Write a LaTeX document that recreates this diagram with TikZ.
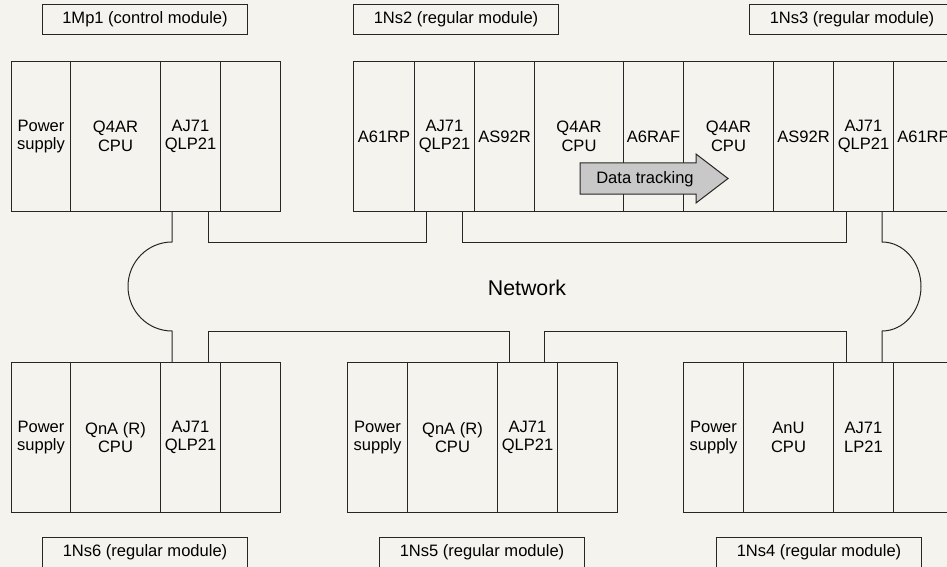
\documentclass[tikz,border=0pt]{standalone}
\usepackage{fontspec}
\setmainfont{Liberation Sans}
\definecolor{paper}{HTML}{F5F3ED}
\definecolor{trackgray}{HTML}{C8C8C8}
\tikzset{
  txt/.style={font=\fontsize{12.4}{14}\selectfont},
  slot/.style={draw=black!85, line width=0.75pt, inner sep=0pt, align=center, txt,
    anchor=north west, minimum height=112.5pt},
  tag/.style={draw=black!85, line width=0.75pt, inner sep=0pt, txt,
    anchor=north west, minimum width=153.75pt, minimum height=22.5pt},
  cable/.style={draw=black!85, line width=0.75pt},
}
\begin{document}
\begin{tikzpicture}[x=0.75pt, y=-0.75pt]
		\useasboundingbox[fill=paper] (0,0) rectangle (947,567);
		\clip (0,0) rectangle (947,567);
		% control module
		\node[tag] (mp1tag) at (42,4) {1Mp1 (control module)};
		\foreach \a/\b/\t [count=\i] in {11/70/{Power\\supply}, 70/160/{Q4AR\\CPU}, 160/220/{AJ71\\QLP21}, 220/280/{}}
			\node[slot, minimum width={(\b-\a)*0.75pt}] (mp\i) at (\a,61) {\t};
		% regular modules 1Ns2 / 1Ns3
		\node[tag] (ns2tag) at (353,4) {1Ns2 (regular module)};
		\node[tag] (ns3tag) at (749,4) {1Ns3 (regular module)};
		\foreach \a/\b/\t [count=\i] in {353/414/{A61RP}, 414/474/{AJ71\\QLP21}, 474/534/{AS92R}, 534/623/{Q4AR\\CPU}, 623/683/{A6RAF}, 683/773/{Q4AR\\CPU}, 773/833/{AS92R}, 833/893/{AJ71\\QLP21}, 893/953/{A61RP}}
			\node[slot, minimum width={(\b-\a)*0.75pt}] (ns\i) at (\a,61) {\t};
		% data tracking
		\draw[draw=black!85, line width=0.75pt, fill=trackgray] (580,163) -- (696,163) -- (696,154) -- (728,178.5) -- (696,203) -- (696,194) -- (580,194) -- cycle;
		\node[txt] (track) at (645,179.5) {Data tracking};
		% lower modules
		\foreach \a/\b/\t [count=\i] in {11/70/{Power\\supply}, 70/160/{QnA (R)\\CPU}, 160/220/{AJ71\\QLP21}, 220/280/{}}
			\node[slot, minimum width={(\b-\a)*0.75pt}] (six\i) at (\a,362) {\t};
		\foreach \a/\b/\t [count=\i] in {347/407/{Power\\supply}, 407/497/{QnA (R)\\CPU}, 497/557/{AJ71\\QLP21}, 557/617/{}}
			\node[slot, minimum width={(\b-\a)*0.75pt}] (five\i) at (\a,362) {\t};
		\foreach \a/\b/\t [count=\i] in {683/743/{Power\\supply}, 743/833/{AnU\\CPU}, 833/893/{AJ71\\LP21}, 893/953/{}}
			\node[slot, minimum width={(\b-\a)*0.75pt}] (four\i) at (\a,362) {\t};
		\node[tag] (ns6tag) at (42,537) {1Ns6 (regular module)};
		\node[tag] (ns5tag) at (379,537) {1Ns5 (regular module)};
		\node[tag] (ns4tag) at (716,537) {1Ns4 (regular module)};
		% network
		\draw[cable] (mp3.south -| 172,0) -- (172,242) arc[start angle=270, end angle=90, x radius=44, y radius=44.5] -- (six3.north -| 172,0);
		\draw[cable] (mp3.south -| 208,0) -- (208,242) -- (426,242) -- (ns2.south -| 426,0);
		\draw[cable] (ns2.south -| 462,0) -- (462,242) -- (846,242) -- (ns8.south -| 846,0);
		\draw[cable] (ns8.south -| 882,0) -- (882,242) arc[start angle=270, end angle=450, x radius=39, y radius=44.5] -- (four3.north -| 882,0);
		\draw[cable] (six3.north -| 208,0) -- (208,331) -- (509,331) -- (five3.north -| 509,0);
		\draw[cable] (five3.north -| 544,0) -- (544,331) -- (846,331) -- (four3.north -| 846,0);
		\node[font=\fontsize{16}{18}\selectfont] (net) at (527,288) {Network};
	\end{tikzpicture}
\end{document}
